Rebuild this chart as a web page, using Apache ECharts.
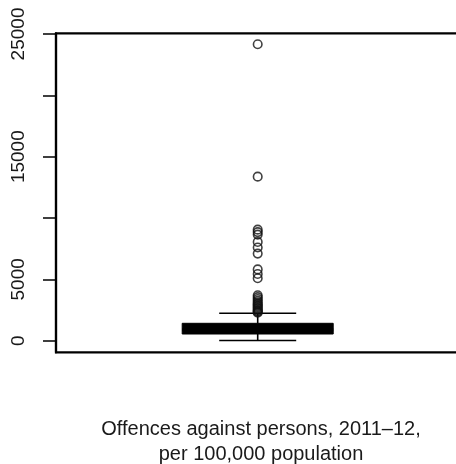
<!DOCTYPE html>
<html>
<head>
<meta charset="utf-8">
<script src="https://cdn.jsdelivr.net/npm/echarts@6/dist/echarts.min.js"></script>
<style>
  html, body { margin: 0; padding: 0; background: #fff; }
  #chart { width: 456px; height: 464px; }
</style>
</head>
<body>
<div id="chart"></div>
<script>
// Box statistics: [lower whisker, Q1, median, Q3, upper whisker]
var boxStats = [20, 546, 900, 1418, 2233];
// Outlier values
var outliers = [24160, 13370, 9050, 8850, 8650, 8050, 7600, 7100, 5810, 5440, 5090,
  3700, 3550, 3400, 3250, 3120, 3000, 2900, 2800, 2700, 2600, 2500, 2420, 2350, 2280];
// Y-axis ticks and the labels R kept (alternate ones dropped)
var yTicks = [0, 5000, 10000, 15000, 20000, 25000];
var yLabels = [0, 5000, 15000, 25000];
var xLabel = 'Offences against persons, 2011\u201312,\nper 100,000 population';

var chart = echarts.init(document.getElementById('chart'), null, { renderer: 'canvas' });
var FONT = '"Liberation Sans", Arial, Helvetica, sans-serif';

chart.setOption({
  animation: false,
  backgroundColor: '#fff',
  title: {
    text: xLabel,
    left: 256,
    top: 412,
    textAlign: 'center',
    textStyle: { fontFamily: FONT, fontSize: 20, fontWeight: 'normal', color: '#1a1a1a', lineHeight: 25 }
  },
  grid: {
    left: 56, top: 33.3, height: 319, width: 403.4,
    outerBoundsMode: 'none', containLabel: false,
    show: true, borderColor: '#000', borderWidth: 2.2, backgroundColor: 'transparent'
  },
  xAxis: {
    type: 'value', min: 0, max: 2,
    show: false
  },
  yAxis: {
    type: 'value', min: -945, max: 25055,
    splitLine: { show: false },
    axisLine: { show: true, lineStyle: { color: '#000', width: 2.2 } },
    axisTick: { show: true, customValues: yTicks, length: 13, lineStyle: { color: '#000', width: 1.5 } },
    axisLabel: {
      customValues: yLabels, rotate: 90, margin: 28,
      formatter: function (v) { return String(v); },
      fontFamily: FONT, fontSize: 19, color: '#1a1a1a'
    }
  },
  series: [
    {
      type: 'custom',
      silent: true,
      data: [[1].concat(boxStats)],
      renderItem: function (params, api) {
        var x = api.value(0);
        var lo = api.coord([x, api.value(1)]);
        var q1 = api.coord([x, api.value(2)]);
        var md = api.coord([x, api.value(3)]);
        var q3 = api.coord([x, api.value(4)]);
        var hi = api.coord([x, api.value(5)]);
        var cx = lo[0];
        var hb = 75.5, hc = 38.5;
        var ls = { stroke: '#000', lineWidth: 1.6 };
        return {
          type: 'group',
          children: [
            { type: 'line', shape: { x1: cx, y1: q3[1], x2: cx, y2: hi[1] }, style: ls },
            { type: 'line', shape: { x1: cx, y1: q1[1], x2: cx, y2: lo[1] }, style: ls },
            { type: 'line', shape: { x1: cx - hc, y1: hi[1], x2: cx + hc, y2: hi[1] }, style: ls },
            { type: 'line', shape: { x1: cx - hc, y1: lo[1], x2: cx + hc, y2: lo[1] }, style: ls },
            { type: 'rect', shape: { x: cx - hb, y: q3[1], width: 2 * hb, height: q1[1] - q3[1] },
              style: { fill: '#000', stroke: '#000', lineWidth: 1 } },
            { type: 'line', shape: { x1: cx - hb, y1: md[1], x2: cx + hb, y2: md[1] },
              style: { stroke: '#000', lineWidth: 3 } }
          ]
        };
      }
    },
    {
      type: 'scatter',
      silent: true,
      symbol: 'circle',
      symbolSize: 8.5,
      itemStyle: { color: 'rgba(0,0,0,0)', borderColor: '#111', borderWidth: 1.6 },
      data: outliers.map(function (v) { return [1, v]; })
    }
  ]
});
</script>
</body>
</html>
